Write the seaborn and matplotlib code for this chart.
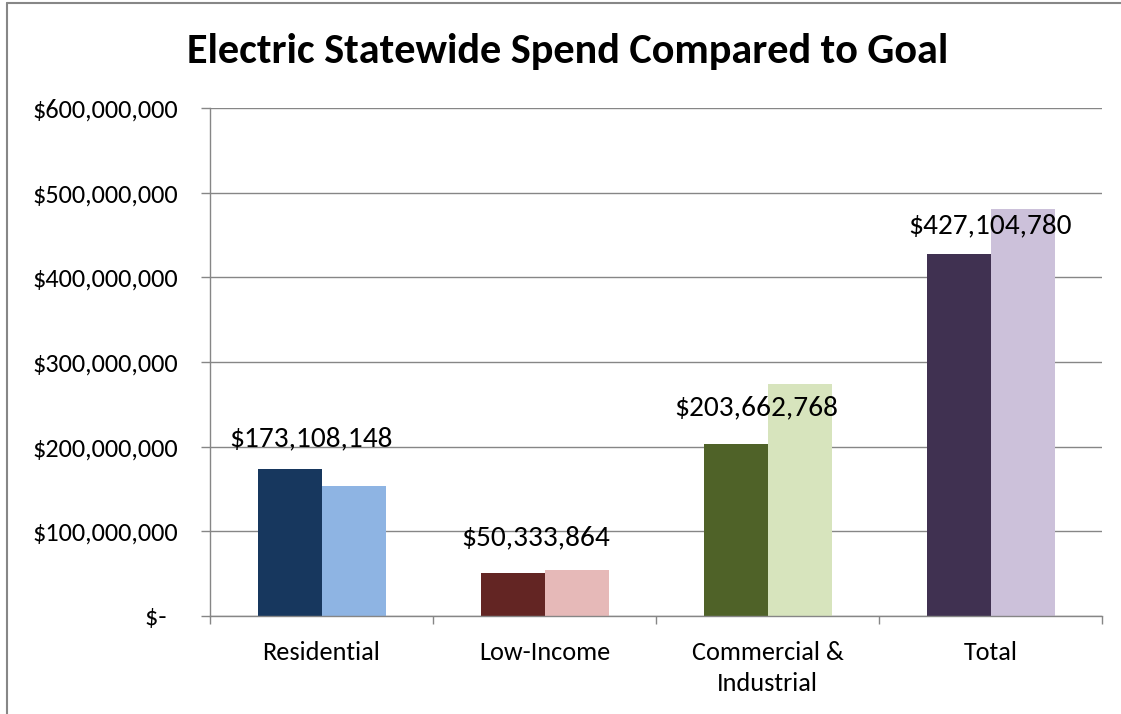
import matplotlib
matplotlib.use("Agg")
import matplotlib.pyplot as plt
from matplotlib.lines import Line2D
from matplotlib.ticker import FixedLocator
import seaborn as sns
import pandas as pd

# Data
categories = ["Residential", "Low-Income", "Commercial &\nIndustrial", "Total"]
spend = [173108148, 50333864, 203662768, 427104780]
goal = [153500000, 54300000, 274000000, 480500000]
series = ["Spend", "Goal"]
y_ticks = [0, 100000000, 200000000, 300000000, 400000000, 500000000, 600000000]

# Per-bar colours (dark = spend, light = goal)
spend_colors = ["#17375E", "#632523", "#4F6228", "#403151"]
goal_colors = ["#8EB4E3", "#E6B9B8", "#D7E4BD", "#CCC1DA"]

df = pd.DataFrame({
    "Category": categories * 2,
    "Series": [series[0]] * len(categories) + [series[1]] * len(categories),
    "Amount": spend + goal,
})

sns.set_theme(style="white")
plt.rcParams["font.family"] = ["Carlito", "DejaVu Sans"]

W, H, DPI = 1121, 714, 100
PX = 72 / DPI  # points per pixel
fig = plt.figure(figsize=(W / DPI, H / DPI), dpi=DPI)
ax = fig.add_axes([210 / W, 1 - 616 / H, (1102 - 210) / W, (616 - 108) / H])

sns.barplot(data=df, x="Category", y="Amount", hue="Series", order=categories,
            hue_order=series, width=128 / 223, gap=0, legend=False, ax=ax,
            saturation=1, edgecolor="none", linewidth=0)

for patch, c in zip(ax.containers[0], spend_colors):
    patch.set_facecolor(c)
for patch, c in zip(ax.containers[1], goal_colors):
    patch.set_facecolor(c)

grid_c = "#868686"
ax.set_ylim(0, 600000000)
ax.set_xlim(-0.5, len(categories) - 0.5)
ax.set_yticks(y_ticks)
ax.set_yticklabels(["$-  " if v == 0 else f"${v:,.0f}" for v in y_ticks])
ax.yaxis.grid(True, color=grid_c, linewidth=1.0)
ax.set_axisbelow(True)
ax.tick_params(axis="y", which="major", length=9 * PX, width=1.0, color=grid_c,
               pad=23 * PX, labelsize=18.9, labelcolor="black", left=True)
ax.tick_params(axis="x", which="major", length=0, pad=25 * PX, labelsize=18.9,
               labelcolor="black")
ax.xaxis.set_minor_locator(FixedLocator([i - 0.5 for i in range(len(categories) + 1)]))
ax.tick_params(axis="x", which="minor", length=8 * PX, width=1.0, color=grid_c,
               bottom=True)
for lab in ax.get_xticklabels():
    lab.set_linespacing(1.42)
ax.set_xlabel("")
ax.set_ylabel("")

for side in ["top", "right"]:
    ax.spines[side].set_visible(False)
for side in ["left", "bottom"]:
    ax.spines[side].set_color(grid_c)
    ax.spines[side].set_linewidth(1.0)

# Value labels above the spend bars (offsets in pixels: across, baseline above bar)
label_offsets_px = [(-11, 23), (-8.5, 28), (-11.5, 28.5), (-0.5, 21)]
for i, (v, (dx, dy)) in enumerate(zip(spend, label_offsets_px)):
    ax.annotate(f"${v:,.0f}", xy=(i, v), xytext=(dx * PX, dy * PX),
                textcoords="offset points", ha="center", va="baseline",
                fontsize=21.2, color="black")

fig.text(568 / W, 1 - 63.5 / H, "Electric Statewide Spend Compared to Goal",
         ha="center", va="baseline", fontsize=30.4, fontweight="bold", color="black")

# Chart-area border: top and left edges
bx, by = 7 / W, 1 - 3 / H
fig.add_artist(Line2D([bx, 1.0], [by, by], transform=fig.transFigure,
                      color="#878787", linewidth=1.5))
fig.add_artist(Line2D([bx, bx], [0.0, by], transform=fig.transFigure,
                      color="#878787", linewidth=1.5))

fig.savefig("out.png", dpi=DPI)
